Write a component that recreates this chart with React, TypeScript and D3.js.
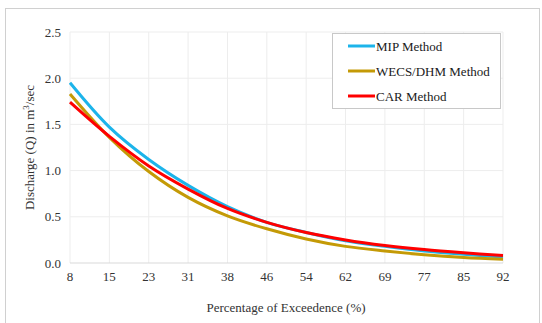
import React from "react";
import * as d3 from "d3";

const exceedence = ["8", "15", "23", "31", "38", "46", "54", "62", "69", "77", "85", "92"];
const mipMethod = [1.95, 1.47, 1.12, 0.84, 0.61, 0.44, 0.33, 0.24, 0.18, 0.13, 0.095, 0.065];
const wecsMethod = [1.83, 1.36, 0.99, 0.71, 0.51, 0.37, 0.26, 0.18, 0.13, 0.09, 0.06, 0.04];
const carMethod = [1.74, 1.37, 1.05, 0.8, 0.59, 0.44, 0.33, 0.25, 0.19, 0.145, 0.11, 0.08];
const yTicks = [0, 0.5, 1.0, 1.5, 2.0, 2.5];

const series = [
  { name: "MIP Method", values: mipMethod, color: "#1cb4ea" },
  { name: "WECS/DHM Method", values: wecsMethod, color: "#c49a06" },
  { name: "CAR Method", values: carMethod, color: "#ff0000" },
];

const width = 542;
const height = 323;
const font = "'Liberation Serif', 'Times New Roman', serif";

export default function App() {
  const x = d3.scalePoint<string>().domain(exceedence).range([70, 503]);
  const y = d3.scaleLinear().domain([0, 2.5]).range([263, 32]);

  const line = (vals: number[]) =>
    d3
      .line<number>()
      .x((_, i) => x(exceedence[i]) as number)
      .y((d) => y(d))
      .curve(d3.curveCatmullRom.alpha(0.5))(vals) || "";

  return (
    <svg
      width={width}
      height={height}
      style={{ position: "absolute", left: 0, top: 0, background: "#fff" }}
      fontFamily={font}
    >
      {/* outer frame */}
      <rect x={5.5} y={8.5} width={534} height={330} fill="none" stroke="#d0d0d0" />

      {/* grid */}
      {yTicks.slice(1).map((t) => (
        <line key={"h" + t} x1={70} x2={503} y1={y(t)} y2={y(t)} stroke="#ededed" />
      ))}
      {exceedence.map((c) => (
        <line key={"v" + c} x1={x(c)} x2={x(c)} y1={y(2.5)} y2={y(0)} stroke="#ededed" />
      ))}
      <line x1={70} x2={503} y1={y(0)} y2={y(0)} stroke="#d9d9d9" />

      {/* y ticks */}
      {yTicks.map((t) => (
        <text key={"yt" + t} x={61} y={y(t)} dy="0.35em" textAnchor="end" fontSize={13} fill="#333">
          {t.toFixed(1)}
        </text>
      ))}
      {/* x ticks */}
      {exceedence.map((c) => (
        <text key={"xt" + c} x={x(c)} y={281} textAnchor="middle" fontSize={13} fill="#333">
          {c}
        </text>
      ))}

      {/* axis titles */}
      <text x={286} y={312} textAnchor="middle" fontSize={13} fill="#333">
        Percentage of Exceedence (%)
      </text>
      <text
        transform={`translate(34,${(y(0) + y(2.5)) / 2}) rotate(-90)`}
        textAnchor="middle"
        fontSize={13}
        fill="#333"
      >
        Discharge (Q) in m
        <tspan fontSize={9} dy={-5}>3</tspan>
        <tspan dy={5}>/sec</tspan>
      </text>

      {/* series */}
      {series.map((s) => (
        <path key={s.name} d={line(s.values)} fill="none" stroke={s.color} strokeWidth={3} />
      ))}

      {/* legend */}
      <rect x={332.5} y={33.5} width={168} height={75} fill="#fff" stroke="#c8c8c8" />
      {series.map((s, i) => (
        <g key={"lg" + s.name} transform={`translate(348,${46 + i * 25})`}>
          <line x1={0} x2={27} y1={0} y2={0} stroke={s.color} strokeWidth={3} />
          <text x={28} y={0} dy="0.35em" fontSize={13} fill="#202020">
            {s.name}
          </text>
        </g>
      ))}
    </svg>
  );
}
